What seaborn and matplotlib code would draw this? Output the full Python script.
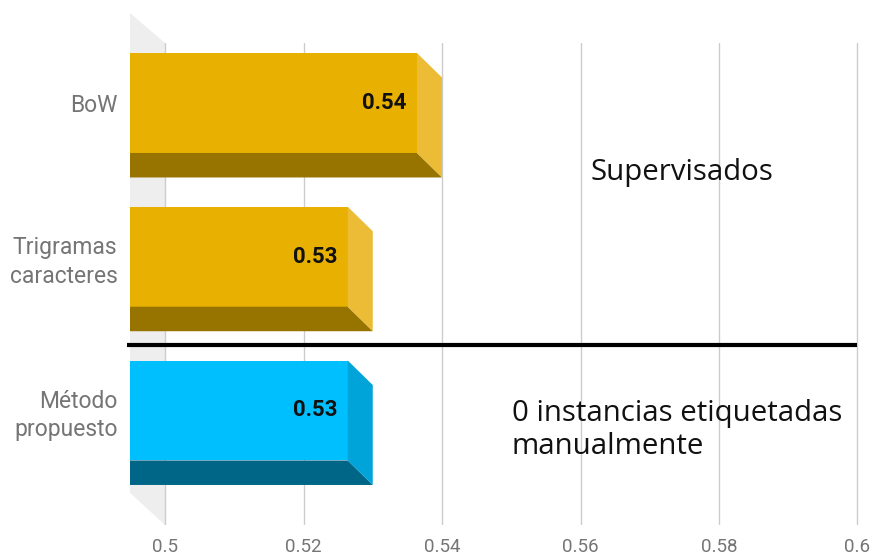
import matplotlib.pyplot as plt
import numpy as np
import seaborn as sns
from matplotlib.patches import Polygon

# data
methods = ["BoW", "Trigramas\ncaracteres", "Método\npropuesto"]
scores = [0.54, 0.53, 0.53]
front_colors = ["#E8B000", "#E8B000", "#00BFFF"]
side_colors = ["#ECBC36", "#ECBC36", "#00A4D8"]
floor_colors = ["#977300", "#977300", "#006688"]
xticks = [0.5, 0.52, 0.54, 0.56, 0.58, 0.6]

sns.set_style("white")
plt.rcParams["font.family"] = ["Roboto", "DejaVu Sans"]

fig = plt.figure(figsize=(8.76, 5.56), dpi=100)
ax = fig.add_axes([130 / 876, 1 - 525 / 556, 740 / 876, 482 / 556])

# 3d depth (in data units)
dx = 25 / 6925
dy = 24.5 / 153.75
front = [s - dx for s in scores]

x_lo, x_hi = 0.5 - 35 / 6925, 0.5 + 705 / 6925
y_top, y_bot = (43 - 103) / 153.75, (525 - 103) / 153.75

# back-left wall
wall = Polygon([(x_lo, y_top - 0.195), (0.5, y_top), (0.5, y_bot), (x_lo, y_bot - 0.21)],
               closed=True, facecolor="#EEEEEE", edgecolor="none", zorder=0.2, clip_on=False)
ax.add_patch(wall)

sns.barplot(x=front, y=methods, hue=methods, palette=front_colors, orient="h",
            width=0.65, saturation=1, legend=False, ax=ax, zorder=2, linewidth=0)

bars = [p for p in ax.patches if not isinstance(p, Polygon)]
for i, p in enumerate(bars):
    x1 = p.get_x() + p.get_width()
    y0 = p.get_y()
    y1 = y0 + p.get_height()
    x0 = x_lo
    # bottom strip and right side face
    ax.add_patch(Polygon([(x0, y1), (x1, y1), (x1 + dx, y1 + dy), (x0, y1 + dy)],
                         closed=True, facecolor=floor_colors[i], edgecolor="none", zorder=2))
    ax.add_patch(Polygon([(x1, y0), (x1 + dx, y0 + dy), (x1 + dx, y1 + dy), (x1, y1)],
                         closed=True, facecolor=side_colors[i], edgecolor="none", zorder=2))
    ax.annotate(f"{scores[i]:.2f}", xy=(x1, (y0 + y1) / 2), xytext=(-7.5, 0),
                textcoords="offset points", ha="right", va="center",
                fontsize=16, fontweight="bold", color="#111111", zorder=4)

ax.set_xlim(x_lo, x_hi)
ax.set_ylim(y_bot, y_top)
ax.set_xticks(xticks)
ax.set_xticklabels([f"{t:g}" for t in xticks])
ax.xaxis.grid(True, color="#CCCCCC", linewidth=1)
ax.set_axisbelow(True)
ax.tick_params(axis="x", length=0, pad=9, labelsize=13.5, labelcolor="#757575")
ax.tick_params(axis="y", length=0, pad=9, labelsize=16.5, labelcolor="#757575")
for lbl in ax.get_yticklabels():
    lbl.set_linespacing(1.3)
ax.set_xlabel("")
ax.set_ylabel("")
for s in ax.spines.values():
    s.set_visible(False)

# separator line between supervised and proposed method
ax.plot([0.5 - 38 / 6925, 0.6], [1.577, 1.577], color="black", lw=3, zorder=5,
        clip_on=False, solid_capstyle="butt")

ann_font = ["Open Sans", "DejaVu Sans"]
ax.text(0.5 + 425 / 6925, (173 - 103) / 153.75, "Supervisados", fontsize=21.2,
        family=ann_font, color="#111111", ha="left", va="center", zorder=3)
ax.text(0.5 + 347 / 6925, (430 - 103) / 153.75, "0 instancias etiquetadas\nmanualmente",
        fontsize=21.2, family=ann_font, color="#111111", ha="left", va="center",
        linespacing=1.22, zorder=3)

fig.savefig("out.png", dpi=100)
